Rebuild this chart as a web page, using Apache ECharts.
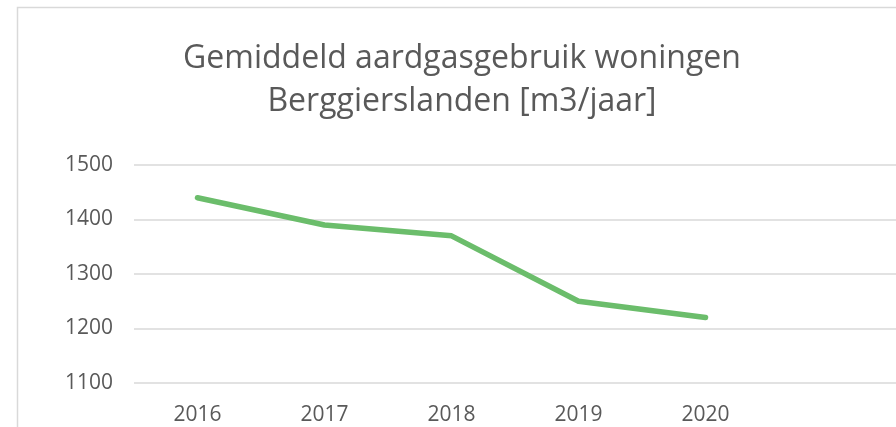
<!DOCTYPE html>
<html>
<head>
<meta charset="utf-8">
<script src="https://cdn.jsdelivr.net/npm/echarts@6/dist/echarts.min.js"></script>
<style>
  html, body { margin: 0; padding: 0; background: #fff; }
  #chart { width: 896px; height: 427px; }
</style>
</head>
<body>
<div id="chart"></div>
<script>
// categories (last slot is empty, as in the original sheet)
var years = ['2016', '2017', '2018', '2019', '2020', ''];
// gemiddeld aardgasgebruik per woning, m3/jaar
var gasUse = [1440, 1390, 1370, 1250, 1220, null];
var yTicks = [1100, 1200, 1300, 1400, 1500];

var chart = echarts.init(document.getElementById('chart'));

var option = {
  backgroundColor: '#fff',
  animation: false,
  title: {
    text: 'Gemiddeld aardgasgebruik woningen\nBerggierslanden [m3/jaar]',
    left: 457,
    top: 32,
    textAlign: 'center',
    textStyle: {
      fontFamily: 'Open Sans',
      fontSize: 32,
      fontWeight: 'normal',
      color: '#595959',
      lineHeight: 43
    }
  },
  graphic: [{
    type: 'rect',
    shape: { x: 17.5, y: 7.5, width: 900, height: 440 },
    style: { fill: 'none', stroke: '#d9d9d9', lineWidth: 1.5 },
    silent: true
  }],
  grid: {
    left: 134,
    right: -10,
    top: 165,
    bottom: 44,
    containLabel: false
  },
  xAxis: {
    type: 'category',
    data: years,
    boundaryGap: true,
    axisLine: { show: false },
    axisTick: { show: false },
    axisLabel: {
      color: '#595959',
      fontFamily: 'Open Sans',
      fontSize: 21,
      margin: 22
    }
  },
  yAxis: {
    type: 'value',
    min: yTicks[0],
    max: yTicks[yTicks.length - 1],
    interval: 100,
    axisLine: { show: false },
    axisTick: { show: false },
    splitLine: { lineStyle: { color: '#d9d9d9', width: 1.5 } },
    axisLabel: {
      color: '#595959',
      fontFamily: 'Open Sans',
      fontSize: 21,
      margin: 21,
      formatter: function (v) { return String(v); }
    }
  },
  series: [{
    name: 'Aardgasgebruik',
    type: 'line',
    data: gasUse,
    symbol: 'none',
    lineStyle: { color: '#6bbd6b', width: 5.5, cap: 'round', join: 'round' },
    itemStyle: { color: '#6bbd6b' }
  }]
};

chart.setOption(option);
</script>
</body>
</html>
